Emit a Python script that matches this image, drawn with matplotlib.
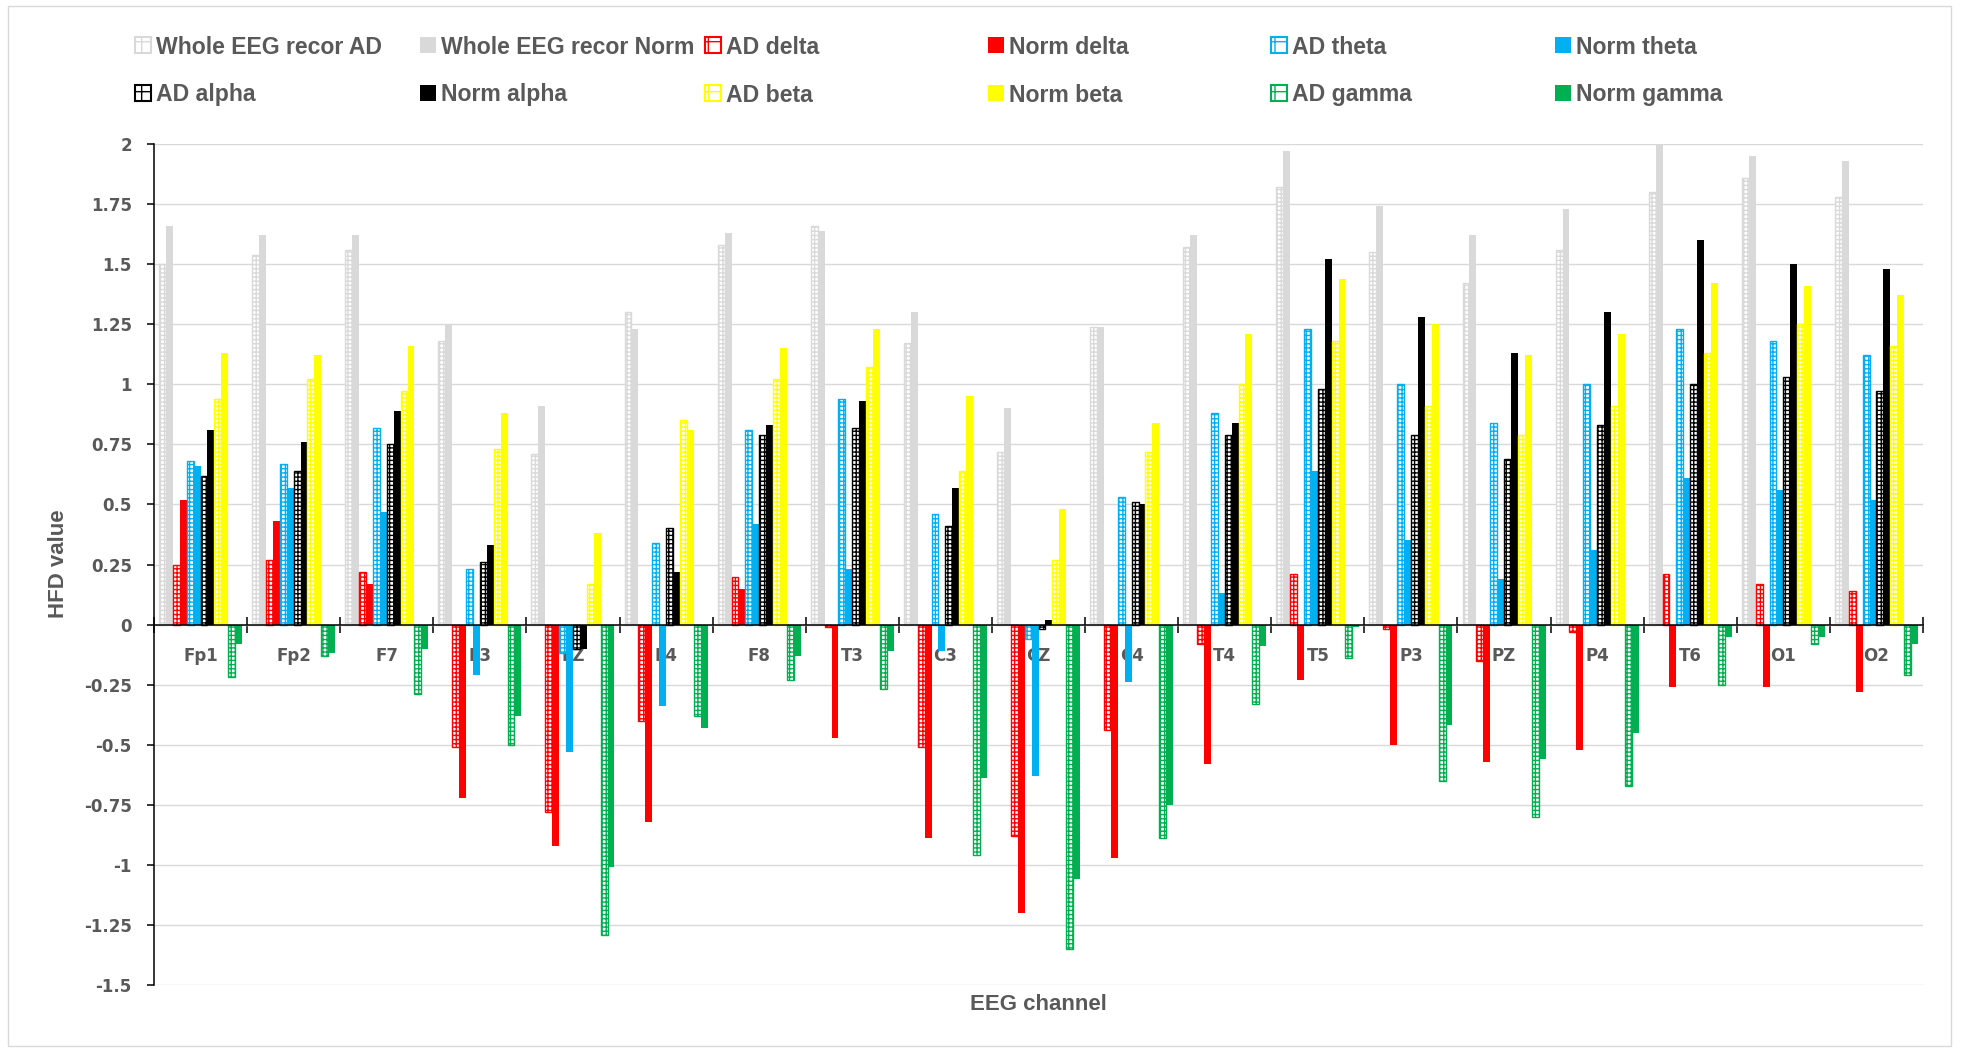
import matplotlib
matplotlib.use("Agg")
import numpy as np
import matplotlib.pyplot as plt
from matplotlib.patches import Patch, Rectangle

channels = ["Fp1", "Fp2", "F7", "F3", "FZ", "F4", "F8", "T3", "C3", "CZ",
            "C4", "T4", "T5", "P3", "PZ", "P4", "T6", "O1", "O2"]

whole_ad = [1.50, 1.54, 1.56, 1.18, 0.71, 1.30, 1.58, 1.66, 1.17, 0.72, 1.24, 1.57, 1.82, 1.55, 1.42, 1.56, 1.80, 1.86, 1.78]
whole_norm = [1.66, 1.62, 1.62, 1.25, 0.91, 1.23, 1.63, 1.64, 1.30, 0.90, 1.24, 1.62, 1.97, 1.74, 1.62, 1.73, 2.00, 1.95, 1.93]
delta_ad = [0.25, 0.27, 0.22, -0.51, -0.78, -0.40, 0.20, -0.01, -0.51, -0.88, -0.44, -0.08, 0.21, -0.02, -0.15, -0.03, 0.21, 0.17, 0.14]
delta_norm = [0.52, 0.43, 0.17, -0.72, -0.92, -0.82, 0.15, -0.47, -0.89, -1.20, -0.97, -0.58, -0.23, -0.50, -0.57, -0.52, -0.26, -0.26, -0.28]
theta_ad = [0.68, 0.67, 0.82, 0.23, -0.12, 0.34, 0.81, 0.94, 0.46, -0.06, 0.53, 0.88, 1.23, 1.00, 0.84, 1.00, 1.23, 1.18, 1.12]
theta_norm = [0.66, 0.57, 0.47, -0.21, -0.53, -0.34, 0.42, 0.23, -0.11, -0.63, -0.24, 0.13, 0.64, 0.35, 0.19, 0.31, 0.61, 0.56, 0.52]
alpha_ad = [0.62, 0.64, 0.75, 0.26, -0.10, 0.40, 0.79, 0.82, 0.41, -0.02, 0.51, 0.79, 0.98, 0.79, 0.69, 0.83, 1.00, 1.03, 0.97]
alpha_norm = [0.81, 0.76, 0.89, 0.33, -0.10, 0.22, 0.83, 0.93, 0.57, 0.02, 0.50, 0.84, 1.52, 1.28, 1.13, 1.30, 1.60, 1.50, 1.48]
beta_ad = [0.94, 1.02, 0.97, 0.73, 0.17, 0.85, 1.02, 1.07, 0.64, 0.27, 0.72, 1.00, 1.18, 0.91, 0.79, 0.91, 1.13, 1.25, 1.16]
beta_norm = [1.13, 1.12, 1.16, 0.88, 0.38, 0.81, 1.15, 1.23, 0.95, 0.48, 0.84, 1.21, 1.44, 1.25, 1.12, 1.21, 1.42, 1.41, 1.37]
gamma_ad = [-0.22, -0.13, -0.29, -0.50, -1.29, -0.38, -0.23, -0.27, -0.96, -1.35, -0.89, -0.33, -0.14, -0.65, -0.80, -0.67, -0.25, -0.08, -0.21]
gamma_norm = [-0.08, -0.12, -0.10, -0.38, -1.01, -0.43, -0.13, -0.11, -0.64, -1.06, -0.75, -0.09, -0.01, -0.42, -0.56, -0.45, -0.05, -0.05, -0.08]

y_ticks = [-1.5, -1.25, -1, -0.75, -0.5, -0.25, 0, 0.25, 0.5, 0.75, 1, 1.25, 1.5, 1.75, 2]
y_tick_labels = ["-1.5", "-1.25", "-1", "-0.75", "-0.5", "-0.25", "0", "0.25", "0.5",
                 "0.75", "1", "1.25", "1.5", "1.75", "2"]

# (label, values, colour, AD pattern?)
series = [
    ("Whole EEG recor AD", whole_ad, "#D9D9D9", True),
    ("Whole EEG recor Norm", whole_norm, "#D9D9D9", False),
    ("AD delta", delta_ad, "#FF0000", True),
    ("Norm delta", delta_norm, "#FF0000", False),
    ("AD theta", theta_ad, "#00B0F0", True),
    ("Norm theta", theta_norm, "#00B0F0", False),
    ("AD alpha", alpha_ad, "#000000", True),
    ("Norm alpha", alpha_norm, "#000000", False),
    ("AD beta", beta_ad, "#FFFF00", True),
    ("Norm beta", beta_norm, "#FFFF00", False),
    ("AD gamma", gamma_ad, "#00B050", True),
    ("Norm gamma", gamma_norm, "#00B050", False),
]

W, H = 1961, 1052
plt.rcParams["hatch.linewidth"] = 1.0
txt_col = "#595959"

fig = plt.figure(figsize=(W / 100, H / 100), dpi=100)
ax = fig.add_axes([154 / W, 1 - 985 / H, (1923 - 154) / W, (985 - 144) / H])

n = len(series)
bw = 0.892 / n
x = np.arange(len(channels)) + 0.5
for i, (name, vals, col, ad) in enumerate(series):
    pos = x - 0.446 + bw * (i + 0.5)
    if ad:
        ax.bar(pos, vals, width=bw, facecolor="white", edgecolor=col,
               hatch="++++", linewidth=1.0, zorder=2)
    else:
        ax.bar(pos, vals, width=bw, color=col, linewidth=0, zorder=2)

ax.set_xlim(0, len(channels))
ax.set_ylim(-1.5, 2)
ax.set_axisbelow(True)

ax.set_yticks(y_ticks)
ax.set_yticklabels(y_tick_labels)
ax.yaxis.grid(True, color="#D9D9D9", linewidth=1.0)
ax.tick_params(axis="y", direction="out", length=5, width=1.1, pad=11,
               labelsize=12, labelcolor=txt_col)
for lab in ax.get_yticklabels():
    lab.set_fontweight("bold")

ax.spines["bottom"].set_position(("data", 0))
ax.spines["bottom"].set_linewidth(1.1)
ax.spines["left"].set_linewidth(1.1)
ax.spines["top"].set_visible(False)
ax.spines["right"].set_visible(False)

ax.set_xticks(np.arange(len(channels) + 1))
ax.set_xticklabels([])
ax.tick_params(axis="x", which="major", direction="inout", length=11, width=1.1)
ax.set_xticks(x, minor=True)
ax.set_xticklabels(channels, minor=True)
ax.tick_params(axis="x", which="minor", length=0, pad=16, labelsize=12,
               labelcolor=txt_col)
for lab in ax.get_xticklabels(minor=True):
    lab.set_fontweight("bold")

fig.text(1038 / W, 1 - 1005 / H, "EEG channel", ha="center", va="center",
         fontsize=16, fontweight="bold", color=txt_col, family="Liberation Sans")
fig.text(59 / W, 1 - 564 / H, "HFD value", ha="center", va="center", rotation=90,
         fontsize=16, fontweight="bold", color=txt_col, family="Liberation Sans")

# legend: 2 rows x 6 columns, one legend per entry so the columns are evenly spaced
col_x = [135, 420, 705, 988, 1271, 1555]
row_y = [47, 95]
for i, (name, vals, col, ad) in enumerate(series):
    if ad:
        h = Patch(facecolor="white", edgecolor=col, hatch="+", linewidth=1.5)
    else:
        h = Patch(facecolor=col, edgecolor="none")
    r, c = divmod(i, 6)
    fig.legend([h], [name], loc="center left",
               bbox_to_anchor=(col_x[c] / W, 1 - row_y[r] / H),
               frameon=False, borderpad=0, borderaxespad=0,
               handlelength=0.68, handleheight=0.68, handletextpad=0.22,
               labelcolor=txt_col,
               prop={"family": "Liberation Sans", "weight": "bold", "size": 16.6})

fig.patches.append(Rectangle((8 / W, 1 - 1046 / H), (1951 - 8) / W, (1046 - 6) / H,
                             transform=fig.transFigure, fill=False,
                             edgecolor="#D9D9D9", linewidth=1.0))

fig.savefig("out.png", dpi=100)
